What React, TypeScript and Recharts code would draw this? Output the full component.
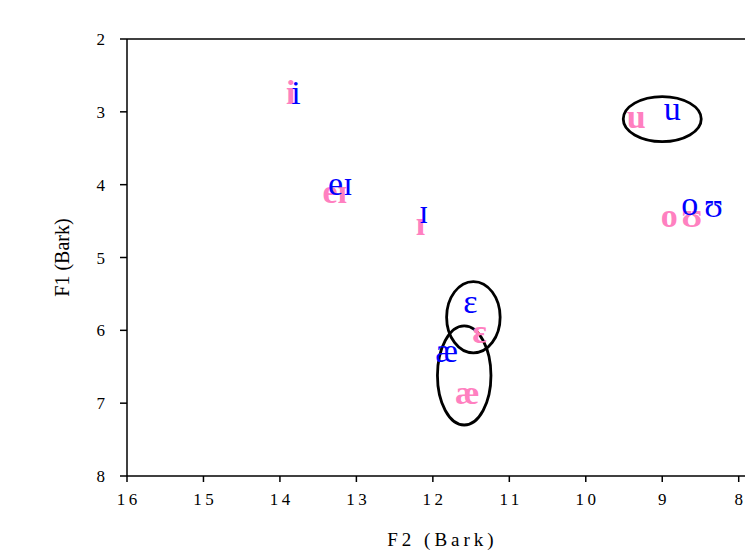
import { ScatterChart, Scatter, XAxis, YAxis, ReferenceLine, ReferenceArea } from "recharts";

const VOWELS = ["i", "eɪ", "ɪ", "u", "o", "ʊ", "ɛ", "æ"];

// blue series (F2, F1 in Bark)
const BLUE_F2 = [13.79, 13.21, 12.12, 8.87, 8.64, 8.33, 11.51, 11.82];
const BLUE_F1 = [2.78, 4.03, 4.42, 3.01, 4.31, 4.33, 5.65, 6.33];

// pink series
const PINK_F2 = [13.86, 13.28, 12.16, 9.34, 8.91, 8.61, 11.39, 11.55];
const PINK_F1 = [2.78, 4.15, 4.58, 3.12, 4.47, 4.47, 6.06, 6.9];

// ellipses: center F2, center F1, half-width (Bark), half-height (Bark)
const ELLIPSE_F2 = [9.0, 11.47, 11.59];
const ELLIPSE_F1 = [3.1, 5.82, 6.62];
const ELLIPSE_RX = [0.51, 0.35, 0.35];
const ELLIPSE_RY = [0.31, 0.49, 0.68];

const X_TICKS = [16, 15, 14, 13, 12, 11, 10, 9, 8];
const Y_TICKS = [2, 3, 4, 5, 6, 7, 8];

const BLUE = "#0000FF";
const PINK = "#FF80C0";
const FONT = '"Liberation Serif", "Times New Roman", serif';
const GLYPH_SIZE = 34;

const blueData = VOWELS.map((v, i) => ({ x: BLUE_F2[i], y: BLUE_F1[i], label: v }));
const pinkData = VOWELS.map((v, i) => ({ x: PINK_F2[i], y: PINK_F1[i], label: v }));

const glyph = (color: string, weight: string) => (props: any) => {
  const { cx, cy, payload } = props;
  return (
    <text
      x={cx}
      y={cy + GLYPH_SIZE * 0.23}
      textAnchor="middle"
      fill={color}
      fontSize={GLYPH_SIZE}
      fontWeight={weight}
      fontFamily={FONT}
    >
      {payload.label}
    </text>
  );
};

const ellipseShape = (props: any) => {
  const { x, y, width, height } = props;
  return (
    <ellipse
      cx={x + width / 2}
      cy={y + height / 2}
      rx={Math.abs(width) / 2}
      ry={Math.abs(height) / 2}
      fill="none"
      stroke="#000"
      strokeWidth={2.8}
    />
  );
};

export default function App() {
  return (
    <div style={{ position: "absolute", left: 0, top: 0, width: 745, height: 552, overflow: "hidden", background: "#fff" }}>
      <ScatterChart width={765} height={552} margin={{ top: 39, right: 11, bottom: 0, left: 0 }}>
        <XAxis
          type="number"
          dataKey="x"
          domain={[7.8, 16]}
          reversed
          ticks={X_TICKS}
          interval={0}
          height={76}
          stroke="#000"
          strokeWidth={1.5}
          tickSize={6}
          tickMargin={11}
          tick={{ fill: "#000", fontSize: 17, fontFamily: FONT, letterSpacing: 3.5, dx: 1.75 }}
          label={{
            value: "F2 (Bark)",
            position: "insideBottom",
            offset: 6,
            dx: 2,
            fill: "#000",
            fontSize: 19,
            fontFamily: FONT,
            style: { letterSpacing: 4 },
          }}
        />
        <YAxis
          type="number"
          dataKey="y"
          domain={[2, 8]}
          reversed
          ticks={Y_TICKS}
          interval={0}
          width={127}
          stroke="#000"
          strokeWidth={1.5}
          tickSize={7}
          tickMargin={15}
          tick={{ fill: "#000", fontSize: 17, fontFamily: FONT }}
          label={{
            value: "F1 (Bark)",
            angle: -90,
            position: "center",
            dx: -2,
            fill: "#000",
            fontSize: 20,
            fontFamily: FONT,
          }}
        />
        <ReferenceLine y={2} stroke="#000" strokeWidth={1.5} />
        <Scatter data={pinkData} fill={PINK} shape={glyph(PINK, "bold")} isAnimationActive={false} />
        <Scatter data={blueData} fill={BLUE} shape={glyph(BLUE, "normal")} isAnimationActive={false} />
        {ELLIPSE_F2.map((cx, i) => (
          <ReferenceArea
            key={i}
            x1={cx + ELLIPSE_RX[i]}
            x2={cx - ELLIPSE_RX[i]}
            y1={ELLIPSE_F1[i] - ELLIPSE_RY[i]}
            y2={ELLIPSE_F1[i] + ELLIPSE_RY[i]}
            shape={ellipseShape}
            ifOverflow="visible"
          />
        ))}
      </ScatterChart>
    </div>
  );
}
